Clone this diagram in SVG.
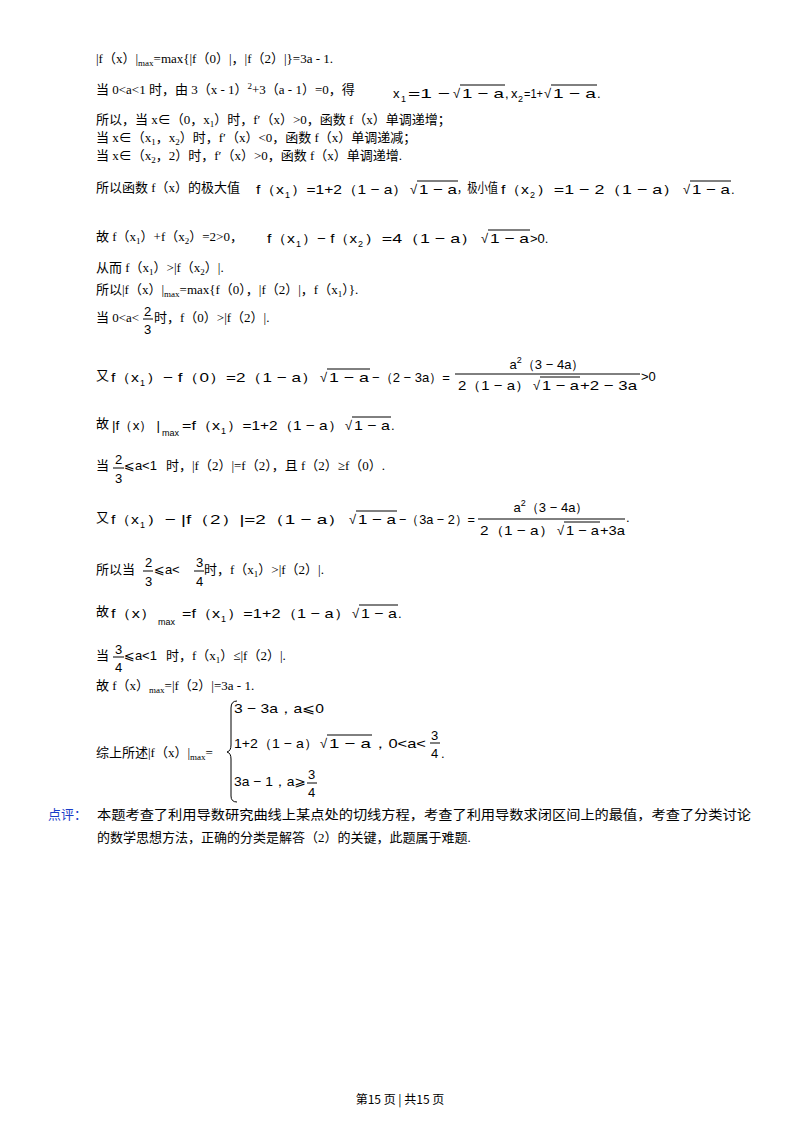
<svg xmlns="http://www.w3.org/2000/svg" width="800" height="1132" viewBox="0 0 800 1132">
<style>
text{font-family:"Liberation Serif","Noto Sans CJK SC",serif;font-size:13px;fill:#000}
.m{font-family:"Liberation Sans","DejaVu Sans",sans-serif;font-size:13px}
.s{font-size:9px}
.ov{stroke:#000;stroke-width:1;fill:none}
.blue{fill:#1a3cc8}
</style>
<rect width="800" height="1132" fill="#fff"/>
<g id="l1"><text x="96" y="63">|f（x）|<tspan class="s" dy="3">max</tspan><tspan dy="-3">=max{|f（0）|，|f（2）|}=3a - 1.</tspan></text></g>
<g id="l2"><text x="96" y="94">当 0&lt;a&lt;1 时，由 3（x - 1）<tspan class="s" dy="-5">2</tspan><tspan dy="5">+3（a - 1）=0，得</tspan></text>
<text class="m" x="393" y="98">x</text><text class="m s" x="401" y="102">1</text>
<text class="m" x="408" y="98" textLength="42" lengthAdjust="spacingAndGlyphs">=1 −</text>
<text class="m" x="453" y="98">√</text><text class="m" x="462" y="98" textLength="42" lengthAdjust="spacingAndGlyphs">1 − a</text><text class="m" x="505" y="98">,</text>
<text class="m" x="511" y="98">x</text><text class="m s" x="518" y="102">2</text>
<text class="m" x="524" y="98" textLength="19" lengthAdjust="spacingAndGlyphs">=1+</text>
<text class="m" x="544" y="98">√</text><text class="m" x="553" y="98" textLength="43" lengthAdjust="spacingAndGlyphs">1 − a</text><text class="m" x="597" y="98">.</text>
<path class="ov" d="M460 85H505M551 85H597"/></g>
<g id="l3"><text x="96" y="124">所以，当 x∈（0，x<tspan class="s" dy="3">1</tspan><tspan dy="-3">）时，f′（x）&gt;0，函数 f（x）单调递增；</tspan></text>
<text x="96" y="142">当 x∈（x<tspan class="s" dy="3">1</tspan><tspan dy="-3">，x</tspan><tspan class="s" dy="3">2</tspan><tspan dy="-3">）时，f′（x）&lt;0，函数 f（x）单调递减；</tspan></text>
<text x="96" y="160">当 x∈（x<tspan class="s" dy="3">2</tspan><tspan dy="-3">，2）时，f′（x）&gt;0，函数 f（x）单调递增.</tspan></text></g>
<g id="l6"><text x="96" y="192">所以函数 f（x）的极大值</text>
<text class="m" x="256" y="194" textLength="28" lengthAdjust="spacingAndGlyphs">f（x</text><text class="m s" x="285" y="198">1</text>
<text class="m" x="291" y="194" textLength="117" lengthAdjust="spacingAndGlyphs">）=1+2（1 − a）</text>
<text class="m" x="410" y="194">√</text><text class="m" x="419" y="194" textLength="38" lengthAdjust="spacingAndGlyphs">1 − a</text>
<text x="457" y="192" textLength="41" lengthAdjust="spacingAndGlyphs">，极小值</text>
<text class="m" x="501" y="194" textLength="28" lengthAdjust="spacingAndGlyphs">f（x</text><text class="m s" x="530" y="198">2</text>
<text class="m" x="536" y="194" textLength="144" lengthAdjust="spacingAndGlyphs">）=1 − 2（1 − a）</text>
<text class="m" x="683" y="194">√</text><text class="m" x="692" y="194" textLength="38" lengthAdjust="spacingAndGlyphs">1 − a</text><text class="m" x="731" y="194">.</text>
<path class="ov" d="M417 181H458M690 181H731"/></g>
<g id="l7"><text x="96" y="241">故 f（x<tspan class="s" dy="3">1</tspan><tspan dy="-3">）+f（x</tspan><tspan class="s" dy="3">2</tspan><tspan dy="-3">）=2&gt;0，</tspan></text>
<text class="m" x="267" y="243" textLength="28" lengthAdjust="spacingAndGlyphs">f（x</text><text class="m s" x="296" y="247">1</text>
<text class="m" x="302" y="243" textLength="55" lengthAdjust="spacingAndGlyphs">）− f（x</text><text class="m s" x="358" y="247">2</text>
<text class="m" x="364" y="243" textLength="114" lengthAdjust="spacingAndGlyphs">）=4（1 − a）</text>
<text class="m" x="481" y="243">√</text><text class="m" x="490" y="243" textLength="39" lengthAdjust="spacingAndGlyphs">1 − a</text><text class="m" x="530" y="243">&gt;0.</text>
<path class="ov" d="M488 230H530"/></g>
<g id="l8"><text x="96" y="272">从而 f（x<tspan class="s" dy="3">1</tspan><tspan dy="-3">）&gt;|f（x</tspan><tspan class="s" dy="3">2</tspan><tspan dy="-3">）|.</tspan></text>
<text x="96" y="294">所以|f（x）|<tspan class="s" dy="3">max</tspan><tspan dy="-3">=max{f（0），|f（2）|，f（x</tspan><tspan class="s" dy="3">1</tspan><tspan dy="-3">）}.</tspan></text>
<text x="96" y="322">当 0&lt;a&lt;</text><text class="m" x="144" y="316">2</text><path class="ov" d="M143 319H153"/><text class="m" x="144" y="334">3</text><text x="154" y="322">时，f（0）&gt;|f（2）|.</text></g>
<g id="l11"><text x="96" y="380">又</text>
<text class="m" x="111" y="382" textLength="28" lengthAdjust="spacingAndGlyphs">f（x</text><text class="m s" x="140" y="386">1</text>
<text class="m" x="146" y="382" textLength="172" lengthAdjust="spacingAndGlyphs">）− f（0）=2（1 − a）</text>
<text class="m" x="320" y="382">√</text><text class="m" x="329" y="382" textLength="40" lengthAdjust="spacingAndGlyphs">1 − a</text>
<text class="m" x="372" y="382" textLength="78" lengthAdjust="spacingAndGlyphs">−（2 − 3a）=</text>
<path class="ov" d="M327 369H370"/>
<text class="m" x="547" y="369" text-anchor="middle">a<tspan class="s" dy="-6">2</tspan><tspan dy="6">（3 − 4a）</tspan></text>
<path class="ov" d="M455 374H640"/>
<text class="m" x="458" y="390" textLength="72" lengthAdjust="spacingAndGlyphs">2（1 − a）</text>
<text class="m" x="533" y="390">√</text><text class="m" x="542" y="390" textLength="37" lengthAdjust="spacingAndGlyphs">1 − a</text>
<text class="m" x="580" y="390" textLength="57" lengthAdjust="spacingAndGlyphs">+2 − 3a</text>
<path class="ov" d="M540 377H580"/>
<text class="m" x="641" y="381">&gt;0</text></g>
<g id="l12"><text x="96" y="428">故</text>
<text class="m" x="112" y="430" textLength="48" lengthAdjust="spacingAndGlyphs">|f（x） |</text><text class="m s" x="162" y="436">max</text>
<text class="m" x="182" y="430" textLength="38" lengthAdjust="spacingAndGlyphs">=f（x</text><text class="m s" x="221" y="434">1</text>
<text class="m" x="227" y="430" textLength="116" lengthAdjust="spacingAndGlyphs">）=1+2（1 − a）</text>
<text class="m" x="345" y="430">√</text><text class="m" x="354" y="430" textLength="36" lengthAdjust="spacingAndGlyphs">1 − a</text><text class="m" x="391" y="430">.</text>
<path class="ov" d="M352 417H391"/></g>
<g id="l13"><text x="96" y="470">当</text><text class="m" x="115" y="464">2</text><path class="ov" d="M113 468H124"/><text class="m" x="115" y="483">3</text>
<text class="m" x="124" y="470">⩽a&lt;1</text><text x="166" y="470">时，|f（2）|=f（2），且 f（2）≥f（0）.</text></g>
<g id="l14"><text x="96" y="522">又</text>
<text class="m" x="111" y="524" textLength="28" lengthAdjust="spacingAndGlyphs">f（x</text><text class="m s" x="140" y="528">1</text>
<text class="m" x="146" y="524" textLength="200" lengthAdjust="spacingAndGlyphs">）− |f（2）|=2（1 − a）</text>
<text class="m" x="349" y="524">√</text><text class="m" x="358" y="524" textLength="38" lengthAdjust="spacingAndGlyphs">1 − a</text>
<text class="m" x="399" y="524" textLength="76" lengthAdjust="spacingAndGlyphs">−（3a − 2）=</text>
<path class="ov" d="M356 511H397"/>
<text class="m" x="551" y="512" text-anchor="middle">a<tspan class="s" dy="-6">2</tspan><tspan dy="6">（3 − 4a）</tspan></text>
<path class="ov" d="M478 519H625"/>
<text class="m" x="480" y="535" textLength="74" lengthAdjust="spacingAndGlyphs">2（1 − a）</text>
<text class="m" x="557" y="535">√</text><text class="m" x="566" y="535" textLength="33" lengthAdjust="spacingAndGlyphs">1 − a</text>
<text class="m" x="600" y="535" textLength="25" lengthAdjust="spacingAndGlyphs">+3a</text><text class="m" x="626" y="522">.</text>
<path class="ov" d="M564 522H600"/></g>
<g id="l15"><text x="96" y="574">所以当</text><text class="m" x="145" y="567">2</text><path class="ov" d="M143 571H153"/><text class="m" x="145" y="586">3</text>
<text class="m" x="154" y="574">⩽a&lt;</text><text class="m" x="196" y="567">3</text><path class="ov" d="M194 571H204"/><text class="m" x="196" y="586">4</text>
<text x="204" y="574">时，f（x<tspan class="s" dy="3">1</tspan><tspan dy="-3">）&gt;|f（2）|.</tspan></text></g>
<g id="l16"><text x="96" y="616">故</text>
<text class="m" x="111" y="618" textLength="45" lengthAdjust="spacingAndGlyphs">f（x）</text><text class="m s" x="158" y="625">max</text>
<text class="m" x="182" y="618" textLength="38" lengthAdjust="spacingAndGlyphs">=f（x</text><text class="m s" x="221" y="622">1</text>
<text class="m" x="227" y="618" textLength="123" lengthAdjust="spacingAndGlyphs">）=1+2（1 − a）</text>
<text class="m" x="352" y="618">√</text><text class="m" x="361" y="618" textLength="36" lengthAdjust="spacingAndGlyphs">1 − a</text><text class="m" x="398" y="618">.</text>
<path class="ov" d="M359 605H398"/></g>
<g id="l17"><text x="96" y="660">当</text><text class="m" x="115" y="654">3</text><path class="ov" d="M113 657H124"/><text class="m" x="115" y="672">4</text>
<text class="m" x="124" y="660">⩽a&lt;1</text><text x="166" y="660">时，f（x<tspan class="s" dy="3">1</tspan><tspan dy="-3">）≤|f（2）|.</tspan></text></g>
<g id="l18"><text x="96" y="690">故 f（x）<tspan class="s" dy="3">max</tspan><tspan dy="-3">=|f（2）|=3a - 1.</tspan></text></g>
<g id="l19"><text x="96" y="757">综上所述|f（x）|<tspan class="s" dy="3">max</tspan><tspan dy="-3">=</tspan></text>
<path class="ov" d="M237 701Q231 701 231 708V745Q231 751 227 752Q231 753 231 759V796Q231 802 237 802"/>
<text class="m" x="234" y="713" textLength="90" lengthAdjust="spacingAndGlyphs">3 − 3a，a⩽0</text>
<text class="m" x="234" y="748" textLength="84" lengthAdjust="spacingAndGlyphs">1+2（1 − a）</text>
<text class="m" x="320" y="748">√</text><text class="m" x="329" y="748" textLength="42" lengthAdjust="spacingAndGlyphs">1 − a</text>
<text class="m" x="372" y="748" textLength="54" lengthAdjust="spacingAndGlyphs">，0&lt;a&lt;</text>
<path class="ov" d="M327 735H372"/>
<text class="m" x="431" y="740">3</text><path class="ov" d="M430 743H440"/><text class="m" x="431" y="758">4</text><text class="m" x="441" y="758">.</text>
<text class="m" x="234" y="786" textLength="72" lengthAdjust="spacingAndGlyphs">3a − 1，a⩾</text><text class="m" x="308" y="779">3</text><path class="ov" d="M307 783H317"/><text class="m" x="308" y="797">4</text></g>
<g id="comment"><text class="blue" x="48" y="819">点评：</text>
<text x="97" y="819" textLength="654" lengthAdjust="spacingAndGlyphs">本题考查了利用导数研究曲线上某点处的切线方程，考查了利用导数求闭区间上的最值，考查了分类讨论</text>
<text x="97" y="842">的数学思想方法，正确的分类是解答（2）的关键，此题属于难题.</text></g>
<g id="footer"><text x="400" y="1104" text-anchor="middle" style="font-family:'Noto Sans CJK SC',sans-serif;font-size:12px">第15 页 | 共15 页</text></g>
</svg>
